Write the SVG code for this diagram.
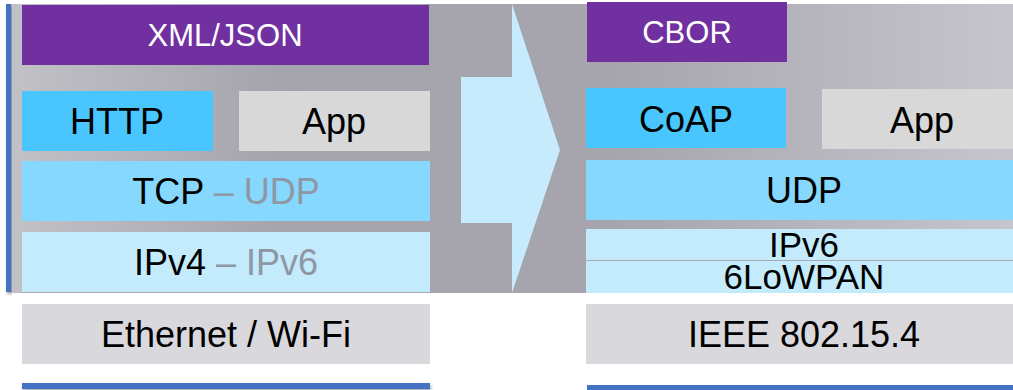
<svg xmlns="http://www.w3.org/2000/svg" width="1013" height="390" viewBox="0 0 1013 390">
  <defs>
    <linearGradient id="bg" x1="0" y1="0" x2="1013" y2="0" gradientUnits="userSpaceOnUse">
      <stop offset="0" stop-color="#c3c2c7"/>
      <stop offset="0.28" stop-color="#a5a4ad"/>
      <stop offset="0.6" stop-color="#a6a5ae"/>
      <stop offset="1" stop-color="#c6c5cc"/>
    </linearGradient>
    <filter id="sh" x="-10%" y="-10%" width="130%" height="200%">
      <feDropShadow dx="1" dy="2" stdDeviation="1.5" flood-color="#000" flood-opacity="0.35"/>
    </filter>
    <style>
      text { font-family: "Liberation Sans", Arial, sans-serif; text-anchor: middle; fill: #000; }
      .w { fill: #fff; font-size: 31px; }
      .t { font-size: 36px; }
      .g { fill: #8e97a3; }
      .purple { fill: #7030a0; }
      .proto { fill: #49c6fd; }
      .app { fill: #d8d8d8; }
      .transport { fill: #87d8fe; }
      .net { fill: #c3ebfc; }
      .link { fill: #d9d8dd; }
      .bar { fill: #4472c4; }
    </style>
  </defs>

  <rect x="11" y="4" width="1002" height="289" fill="url(#bg)"/>
  <rect class="bar" x="6" y="4" width="5" height="288" filter="url(#sh)"/>

  <g id="connectors">
    <polygon points="461,77 512,77 512,4 560,150 512,293 512,223 461,223" fill="#c5ebfd"/>
  </g>

  <g id="xml-json">
    <rect class="purple" x="22" y="5" width="407" height="60"/>
    <text class="w" x="225" y="46">XML/JSON</text>
  </g>
  <g id="http">
    <rect class="proto" x="22" y="91" width="191" height="60"/>
    <text class="t" x="117" y="134">HTTP</text>
  </g>
  <g id="app-left">
    <rect class="app" x="239" y="91" width="191" height="60"/>
    <text class="t" x="334" y="134">App</text>
  </g>
  <g id="tcp-udp">
    <rect class="transport" x="22" y="161" width="408" height="60"/>
    <text class="t" x="226" y="204">TCP<tspan class="g"> – UDP</tspan></text>
  </g>
  <g id="ipv4-ipv6">
    <rect class="net" x="22" y="232" width="408" height="60"/>
    <line x1="22" y1="292.5" x2="430" y2="292.5" stroke="#a9a9b0" stroke-width="1"/>
    <text class="t" x="226" y="275">IPv4<tspan class="g"> – IPv6</tspan></text>
  </g>
  <g id="ethernet">
    <rect class="link" x="22" y="304" width="408" height="60"/>
    <text class="t" x="226" y="347">Ethernet / Wi-Fi</text>
  </g>
  <g id="bar-left">
    <rect class="bar" x="22" y="383" width="408" height="6" filter="url(#sh)"/>
  </g>

  <g id="cbor">
    <rect class="purple" x="587" y="2" width="200" height="60"/>
    <text class="w" x="687" y="43">CBOR</text>
  </g>
  <g id="coap">
    <rect class="proto" x="586" y="88" width="200" height="60"/>
    <text class="t" x="686" y="132">CoAP</text>
  </g>
  <g id="app-right">
    <rect class="app" x="822" y="89" width="200" height="60"/>
    <text class="t" x="922" y="133">App</text>
  </g>
  <g id="udp">
    <rect class="transport" x="586" y="160" width="436" height="60"/>
    <text class="t" x="804" y="203">UDP</text>
  </g>
  <g id="ipv6">
    <rect class="net" x="586" y="229" width="436" height="31"/>
    <text x="804" y="257" font-size="35">IPv6</text>
  </g>
  <g id="sixlowpan">
    <rect class="net" x="586" y="261" width="436" height="32"/>
    <line x1="586" y1="260.5" x2="1022" y2="260.5" stroke="#a9a9b0" stroke-width="1"/>
    <text x="804" y="289" font-size="35">6LoWPAN</text>
  </g>
  <g id="ieee">
    <rect class="link" x="586" y="304" width="436" height="60"/>
    <text class="t" x="804" y="347">IEEE 802.15.4</text>
  </g>
  <g id="bar-right">
    <rect class="bar" x="587" y="385" width="436" height="6"/>
  </g>
</svg>
